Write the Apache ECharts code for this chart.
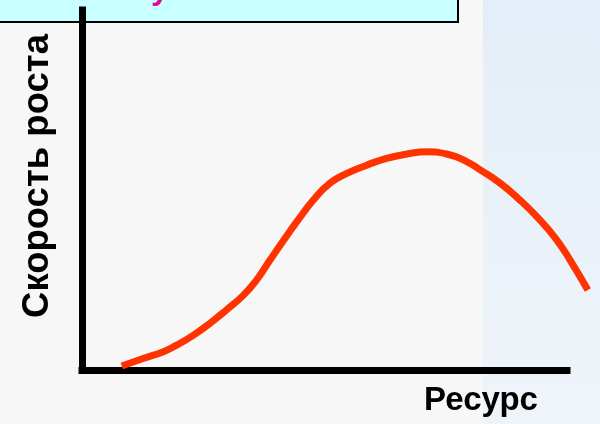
<!DOCTYPE html>
<html>
<head>
<meta charset="utf-8">
<script src="https://cdn.jsdelivr.net/npm/echarts@6/dist/echarts.min.js"></script>
<style>
  html, body { margin: 0; padding: 0; background: #f7f7f7; }
  #main { width: 600px; height: 424px; }
</style>
</head>
<body>
<div id="main"></div>
<script>
// curve (resource -> growth rate), axis runs 0..100
var resource = [8.2, 12.6, 16.8, 19.5, 23, 26.4, 29.8, 33.3, 36, 38.8, 41.5, 44.3, 47.7, 51.1, 54.6,
                58.7, 62.8, 67, 71.1, 75.2, 79.3, 82.1, 86.2, 90.3, 94.4, 97.9, 100.6, 104.3];
var growth   = [1.1, 3.2, 5.1, 6.9, 9.7, 13, 16.7, 20.8, 25, 30.6, 35.9, 41.2, 47.2, 51.9, 54.6,
                56.9, 58.8, 60, 60.6, 60, 57.9, 55.6, 51.9, 47.2, 41.7, 36.1, 30.6, 22.2];
var xName = 'Ресурс';
var yName = 'Скорость роста';

var chartDom = document.getElementById('main');
var myChart = echarts.init(chartDom);

var axisStyle = { show: true, lineStyle: { color: '#000', width: 7, cap: 'square' } };
var hidden = { axisLine: { show: false }, axisTick: { show: false }, axisLabel: { show: false }, splitLine: { show: false } };

var option = {
  animation: false,
  backgroundColor: '#f7f7f7',
  // grid 0 carries the drawn axes, grid 1 has the same scale but is wider so the curve can run past the x axis end
  grid: [
    { left: 82, right: 33, top: 10, bottom: 54 },
    { left: 82, right: 10, top: 10, bottom: 54 }
  ],
  xAxis: [
    { type: 'value', gridIndex: 0, min: 0, max: 100,
      axisLine: axisStyle, axisTick: { show: false }, axisLabel: { show: false }, splitLine: { show: false } },
    Object.assign({ type: 'value', gridIndex: 1, min: 0, max: 104.74 }, hidden)
  ],
  yAxis: [
    { type: 'value', gridIndex: 0, min: 0, max: 100,
      axisLine: axisStyle, axisTick: { show: false }, axisLabel: { show: false }, splitLine: { show: false } },
    Object.assign({ type: 'value', gridIndex: 1, min: 0, max: 100 }, hidden)
  ],
  graphic: [
    { type: 'rect', z: -10, silent: true, shape: { x: 483, y: 0, width: 117, height: 424 },
      style: { fill: new echarts.graphic.LinearGradient(0, 0, 0, 1, [
        { offset: 0, color: '#e4eef8' }, { offset: 1, color: '#eff4f9' }]) } },
    { type: 'rect', z: -5, shape: { x: -4, y: -12, width: 462, height: 34 },
      style: { fill: '#c8ffff', stroke: '#000', lineWidth: 2 } },
    { type: 'text', z: -4, x: 160, y: -10,
      style: { text: 'у', fill: '#dd0a99', font: 'bold 32px "Liberation Sans", Arial',
               textAlign: 'center', textVerticalAlign: 'middle' } },
    { type: 'text', x: 481, y: 401,
      style: { text: xName, fill: '#000', font: 'bold 33px "Liberation Sans", Arial',
               textAlign: 'center', textVerticalAlign: 'middle' } },
    { type: 'text', x: 38, y: 176, rotation: Math.PI / 2,
      style: { text: yName, fill: '#000', font: 'bold 36.5px "Liberation Sans", Arial',
               textAlign: 'center', textVerticalAlign: 'middle' } }
  ],
  series: [{
    type: 'line',
    xAxisIndex: 1,
    yAxisIndex: 1,
    smooth: 0.5,
    showSymbol: false,
    lineStyle: { color: '#ff3300', width: 7 },
    data: resource.map(function (x, i) { return [x, growth[i]]; })
  }]
};

option && myChart.setOption(option);
</script>
</body>
</html>
